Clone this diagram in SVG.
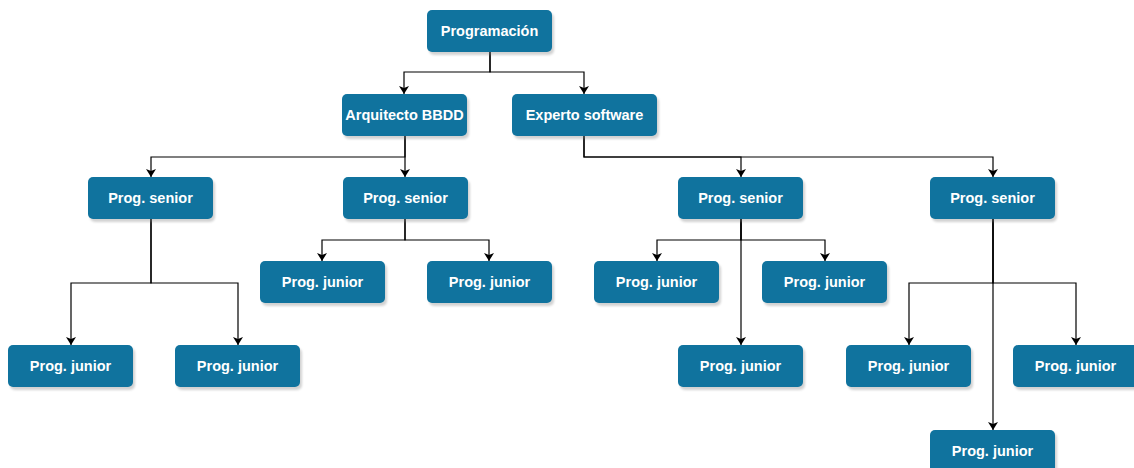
<svg xmlns="http://www.w3.org/2000/svg" width="1134" height="468" viewBox="0 0 1134 468">
  <style>
    .box { fill: #10739e; stroke: none; rx: 5; ry: 5; }
    .shadow { fill: #808080; opacity: 0.35; }
    .label { font-family: "Liberation Sans", Arial, sans-serif; font-weight: bold; font-size: 14.5px; fill: #ffffff; text-anchor: middle; dominant-baseline: central; }
    .edge { fill: none; stroke: #000000; stroke-width: 1.2; marker-end: url(#arrow); }
  </style>
  <defs>
    <marker id="arrow" viewBox="0 0 8 10" refX="8" refY="5" markerWidth="8" markerHeight="10" markerUnits="userSpaceOnUse" orient="auto">
      <path d="M0,0 L8,5 L0,10 L2,5 Z" fill="#000000"/>
    </marker>
    <filter id="blur" x="-10%" y="-10%" width="120%" height="130%">
      <feGaussianBlur stdDeviation="1"/>
    </filter>
  </defs>
  <rect width="1134" height="468" fill="#ffffff"/>

  <!-- connectors -->
  <g id="connectors">
    <path class="edge" d="M490,52 V72 H404 V94"/>
    <path class="edge" d="M490,52 V72 H584 V94"/>
    <path class="edge" d="M405,136 V157 H151 V177"/>
    <path class="edge" d="M405,136 V177"/>
    <path class="edge" d="M584,136 V157 H741 V177"/>
    <path class="edge" d="M584,136 V157 H993 V177"/>
    <path class="edge" d="M151,219 V283 H71 V345"/>
    <path class="edge" d="M151,219 V283 H238 V345"/>
    <path class="edge" d="M405,219 V240 H322 V261"/>
    <path class="edge" d="M405,219 V240 H489 V261"/>
    <path class="edge" d="M741,219 V240 H657 V261"/>
    <path class="edge" d="M741,219 V240 H825 V261"/>
    <path class="edge" d="M741,219 V345"/>
    <path class="edge" d="M993,219 V283 H909 V345"/>
    <path class="edge" d="M993,219 V283 H1076 V345"/>
    <path class="edge" d="M993,219 V430"/>
  </g>

  <!-- nodes -->
  <g id="programacion">
    <rect class="shadow" x="429" y="13" width="125" height="42" rx="5" filter="url(#blur)"/>
    <rect class="box" x="427" y="10" width="125" height="42"/>
    <text class="label" x="489.5" y="31">Programación</text>
  </g>
  <g id="arquitecto">
    <rect class="shadow" x="344" y="97" width="125" height="42" rx="5" filter="url(#blur)"/>
    <rect class="box" x="342" y="94" width="125" height="42"/>
    <text class="label" x="404.5" y="115">Arquitecto BBDD</text>
  </g>
  <g id="experto">
    <rect class="shadow" x="514" y="97" width="145" height="42" rx="5" filter="url(#blur)"/>
    <rect class="box" x="512" y="94" width="145" height="42"/>
    <text class="label" x="584.5" y="115">Experto software</text>
  </g>

  <g id="senior1">
    <rect class="shadow" x="90" y="180" width="125" height="42" rx="5" filter="url(#blur)"/>
    <rect class="box" x="88" y="177" width="125" height="42"/>
    <text class="label" x="150.5" y="198">Prog. senior</text>
  </g>
  <g id="senior2">
    <rect class="shadow" x="345" y="180" width="125" height="42" rx="5" filter="url(#blur)"/>
    <rect class="box" x="343" y="177" width="125" height="42"/>
    <text class="label" x="405.5" y="198">Prog. senior</text>
  </g>
  <g id="senior3">
    <rect class="shadow" x="680" y="180" width="125" height="42" rx="5" filter="url(#blur)"/>
    <rect class="box" x="678" y="177" width="125" height="42"/>
    <text class="label" x="740.5" y="198">Prog. senior</text>
  </g>
  <g id="senior4">
    <rect class="shadow" x="932" y="180" width="125" height="42" rx="5" filter="url(#blur)"/>
    <rect class="box" x="930" y="177" width="125" height="42"/>
    <text class="label" x="992.5" y="198">Prog. senior</text>
  </g>

  <g id="junior1">
    <rect class="shadow" x="10" y="348" width="125" height="42" rx="5" filter="url(#blur)"/>
    <rect class="box" x="8" y="345" width="125" height="42"/>
    <text class="label" x="70.5" y="366">Prog. junior</text>
  </g>
  <g id="junior2">
    <rect class="shadow" x="177" y="348" width="125" height="42" rx="5" filter="url(#blur)"/>
    <rect class="box" x="175" y="345" width="125" height="42"/>
    <text class="label" x="237.5" y="366">Prog. junior</text>
  </g>
  <g id="junior3">
    <rect class="shadow" x="262" y="264" width="125" height="42" rx="5" filter="url(#blur)"/>
    <rect class="box" x="260" y="261" width="125" height="42"/>
    <text class="label" x="322.5" y="282">Prog. junior</text>
  </g>
  <g id="junior4">
    <rect class="shadow" x="429" y="264" width="125" height="42" rx="5" filter="url(#blur)"/>
    <rect class="box" x="427" y="261" width="125" height="42"/>
    <text class="label" x="489.5" y="282">Prog. junior</text>
  </g>
  <g id="junior5">
    <rect class="shadow" x="596" y="264" width="125" height="42" rx="5" filter="url(#blur)"/>
    <rect class="box" x="594" y="261" width="125" height="42"/>
    <text class="label" x="656.5" y="282">Prog. junior</text>
  </g>
  <g id="junior6">
    <rect class="shadow" x="764" y="264" width="125" height="42" rx="5" filter="url(#blur)"/>
    <rect class="box" x="762" y="261" width="125" height="42"/>
    <text class="label" x="824.5" y="282">Prog. junior</text>
  </g>
  <g id="junior7">
    <rect class="shadow" x="680" y="348" width="125" height="42" rx="5" filter="url(#blur)"/>
    <rect class="box" x="678" y="345" width="125" height="42"/>
    <text class="label" x="740.5" y="366">Prog. junior</text>
  </g>
  <g id="junior8">
    <rect class="shadow" x="848" y="348" width="125" height="42" rx="5" filter="url(#blur)"/>
    <rect class="box" x="846" y="345" width="125" height="42"/>
    <text class="label" x="908.5" y="366">Prog. junior</text>
  </g>
  <g id="junior9">
    <rect class="shadow" x="1015" y="348" width="125" height="42" rx="5" filter="url(#blur)"/>
    <rect class="box" x="1013" y="345" width="125" height="42"/>
    <text class="label" x="1075.5" y="366">Prog. junior</text>
  </g>
  <g id="junior10">
    <rect class="shadow" x="932" y="433" width="125" height="42" rx="5" filter="url(#blur)"/>
    <rect class="box" x="930" y="430" width="125" height="42"/>
    <text class="label" x="992.5" y="451">Prog. junior</text>
  </g>
</svg>
